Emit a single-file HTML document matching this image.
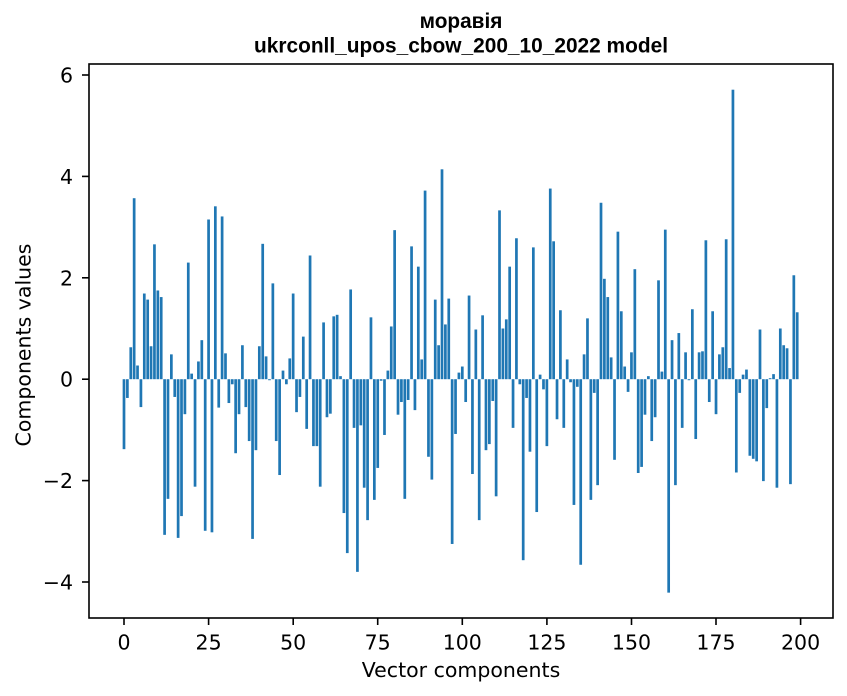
<!DOCTYPE html>
<html>
<head>
<meta charset="utf-8">
<style>
html,body{margin:0;padding:0;background:#fff;}
svg{display:block;}
.t{font-family:"DejaVu Sans","Liberation Sans",sans-serif;font-size:20.5px;fill:#000;}
.ti{font-family:"Liberation Sans","DejaVu Sans",sans-serif;font-size:20.8px;font-weight:bold;fill:#000;}
</style>
</head>
<body>
<svg width="847" height="696" viewBox="0 0 847 696" xmlns="http://www.w3.org/2000/svg">
<rect x="0" y="0" width="847" height="696" fill="#fff"/>
<text class="ti" x="461" y="28" text-anchor="middle">моравія</text>
<text class="ti" x="461" y="52.5" text-anchor="middle" textLength="414" lengthAdjust="spacingAndGlyphs">ukrconll_upos_cbow_200_10_2022 model</text>

<g transform="translate(124 379.2) scale(3.383 -50.7)" fill="#1f77b4">
<rect x="-0.4" y="-1.38" width="0.8" height="1.38"/>
<rect x="0.6" y="-0.37" width="0.8" height="0.37"/>
<rect x="1.6" y="0" width="0.8" height="0.63"/>
<rect x="2.6" y="0" width="0.8" height="3.57"/>
<rect x="3.6" y="0" width="0.8" height="0.27"/>
<rect x="4.6" y="-0.55" width="0.8" height="0.55"/>
<rect x="5.6" y="0" width="0.8" height="1.69"/>
<rect x="6.6" y="0" width="0.8" height="1.57"/>
<rect x="7.6" y="0" width="0.8" height="0.65"/>
<rect x="8.6" y="0" width="0.8" height="2.66"/>
<rect x="9.6" y="0" width="0.8" height="1.75"/>
<rect x="10.6" y="0" width="0.8" height="1.62"/>
<rect x="11.6" y="-3.07" width="0.8" height="3.07"/>
<rect x="12.6" y="-2.36" width="0.8" height="2.36"/>
<rect x="13.6" y="0" width="0.8" height="0.49"/>
<rect x="14.6" y="-0.35" width="0.8" height="0.35"/>
<rect x="15.6" y="-3.13" width="0.8" height="3.13"/>
<rect x="16.6" y="-2.70" width="0.8" height="2.70"/>
<rect x="17.6" y="-0.69" width="0.8" height="0.69"/>
<rect x="18.6" y="0" width="0.8" height="2.30"/>
<rect x="19.6" y="0" width="0.8" height="0.11"/>
<rect x="20.6" y="-2.12" width="0.8" height="2.12"/>
<rect x="21.6" y="0" width="0.8" height="0.35"/>
<rect x="22.6" y="0" width="0.8" height="0.77"/>
<rect x="23.6" y="-2.99" width="0.8" height="2.99"/>
<rect x="24.6" y="0" width="0.8" height="3.15"/>
<rect x="25.6" y="-3.02" width="0.8" height="3.02"/>
<rect x="26.6" y="0" width="0.8" height="3.41"/>
<rect x="27.6" y="-0.56" width="0.8" height="0.56"/>
<rect x="28.6" y="0" width="0.8" height="3.21"/>
<rect x="29.6" y="0" width="0.8" height="0.51"/>
<rect x="30.6" y="-0.47" width="0.8" height="0.47"/>
<rect x="31.6" y="-0.10" width="0.8" height="0.10"/>
<rect x="32.6" y="-1.46" width="0.8" height="1.46"/>
<rect x="33.6" y="-0.69" width="0.8" height="0.69"/>
<rect x="34.6" y="0" width="0.8" height="0.67"/>
<rect x="35.6" y="-0.55" width="0.8" height="0.55"/>
<rect x="36.6" y="-1.22" width="0.8" height="1.22"/>
<rect x="37.6" y="-3.15" width="0.8" height="3.15"/>
<rect x="38.6" y="-1.40" width="0.8" height="1.40"/>
<rect x="39.6" y="0" width="0.8" height="0.65"/>
<rect x="40.6" y="0" width="0.8" height="2.67"/>
<rect x="41.6" y="0" width="0.8" height="0.45"/>
<rect x="42.6" y="-0.02" width="0.8" height="0.02"/>
<rect x="43.6" y="0" width="0.8" height="1.89"/>
<rect x="44.6" y="-1.22" width="0.8" height="1.22"/>
<rect x="45.6" y="-1.89" width="0.8" height="1.89"/>
<rect x="46.6" y="0" width="0.8" height="0.17"/>
<rect x="47.6" y="-0.10" width="0.8" height="0.10"/>
<rect x="48.6" y="0" width="0.8" height="0.41"/>
<rect x="49.6" y="0" width="0.8" height="1.69"/>
<rect x="50.6" y="-0.65" width="0.8" height="0.65"/>
<rect x="51.6" y="-0.35" width="0.8" height="0.35"/>
<rect x="52.6" y="0" width="0.8" height="0.84"/>
<rect x="53.6" y="-0.98" width="0.8" height="0.98"/>
<rect x="54.6" y="0" width="0.8" height="2.44"/>
<rect x="55.6" y="-1.32" width="0.8" height="1.32"/>
<rect x="56.6" y="-1.32" width="0.8" height="1.32"/>
<rect x="57.6" y="-2.12" width="0.8" height="2.12"/>
<rect x="58.6" y="0" width="0.8" height="1.12"/>
<rect x="59.6" y="-0.75" width="0.8" height="0.75"/>
<rect x="60.6" y="-0.68" width="0.8" height="0.68"/>
<rect x="61.6" y="0" width="0.8" height="1.24"/>
<rect x="62.6" y="0" width="0.8" height="1.27"/>
<rect x="63.6" y="0" width="0.8" height="0.06"/>
<rect x="64.6" y="-2.64" width="0.8" height="2.64"/>
<rect x="65.6" y="-3.43" width="0.8" height="3.43"/>
<rect x="66.6" y="0" width="0.8" height="1.77"/>
<rect x="67.6" y="-0.96" width="0.8" height="0.96"/>
<rect x="68.6" y="-3.80" width="0.8" height="3.80"/>
<rect x="69.6" y="-0.91" width="0.8" height="0.91"/>
<rect x="70.6" y="-2.14" width="0.8" height="2.14"/>
<rect x="71.6" y="-2.78" width="0.8" height="2.78"/>
<rect x="72.6" y="0" width="0.8" height="1.22"/>
<rect x="73.6" y="-2.38" width="0.8" height="2.38"/>
<rect x="74.6" y="-1.75" width="0.8" height="1.75"/>
<rect x="75.6" y="-0.03" width="0.8" height="0.03"/>
<rect x="76.6" y="-1.10" width="0.8" height="1.10"/>
<rect x="77.6" y="0" width="0.8" height="0.17"/>
<rect x="78.6" y="0" width="0.8" height="1.04"/>
<rect x="79.6" y="0" width="0.8" height="2.94"/>
<rect x="80.6" y="-0.70" width="0.8" height="0.70"/>
<rect x="81.6" y="-0.45" width="0.8" height="0.45"/>
<rect x="82.6" y="-2.36" width="0.8" height="2.36"/>
<rect x="83.6" y="-0.41" width="0.8" height="0.41"/>
<rect x="84.6" y="0" width="0.8" height="2.62"/>
<rect x="85.6" y="-0.61" width="0.8" height="0.61"/>
<rect x="86.6" y="0" width="0.8" height="2.22"/>
<rect x="87.6" y="0" width="0.8" height="0.39"/>
<rect x="88.6" y="0" width="0.8" height="3.72"/>
<rect x="89.6" y="-1.53" width="0.8" height="1.53"/>
<rect x="90.6" y="-1.98" width="0.8" height="1.98"/>
<rect x="91.6" y="0" width="0.8" height="1.57"/>
<rect x="92.6" y="0" width="0.8" height="0.67"/>
<rect x="93.6" y="0" width="0.8" height="4.14"/>
<rect x="94.6" y="0" width="0.8" height="1.08"/>
<rect x="95.6" y="0" width="0.8" height="1.59"/>
<rect x="96.6" y="-3.25" width="0.8" height="3.25"/>
<rect x="97.6" y="-1.08" width="0.8" height="1.08"/>
<rect x="98.6" y="0" width="0.8" height="0.13"/>
<rect x="99.6" y="0" width="0.8" height="0.25"/>
<rect x="100.6" y="-0.45" width="0.8" height="0.45"/>
<rect x="101.6" y="0" width="0.8" height="1.65"/>
<rect x="102.6" y="-1.87" width="0.8" height="1.87"/>
<rect x="103.6" y="0" width="0.8" height="0.98"/>
<rect x="104.6" y="-2.78" width="0.8" height="2.78"/>
<rect x="105.6" y="0" width="0.8" height="1.26"/>
<rect x="106.6" y="-1.40" width="0.8" height="1.40"/>
<rect x="107.6" y="-1.28" width="0.8" height="1.28"/>
<rect x="108.6" y="-0.43" width="0.8" height="0.43"/>
<rect x="109.6" y="-2.31" width="0.8" height="2.31"/>
<rect x="110.6" y="0" width="0.8" height="3.33"/>
<rect x="111.6" y="0" width="0.8" height="1.00"/>
<rect x="112.6" y="0" width="0.8" height="1.18"/>
<rect x="113.6" y="0" width="0.8" height="2.22"/>
<rect x="114.6" y="-0.96" width="0.8" height="0.96"/>
<rect x="115.6" y="0" width="0.8" height="2.78"/>
<rect x="116.6" y="-0.10" width="0.8" height="0.10"/>
<rect x="117.6" y="-3.57" width="0.8" height="3.57"/>
<rect x="118.6" y="-0.37" width="0.8" height="0.37"/>
<rect x="119.6" y="-1.43" width="0.8" height="1.43"/>
<rect x="120.6" y="0" width="0.8" height="2.60"/>
<rect x="121.6" y="-2.62" width="0.8" height="2.62"/>
<rect x="122.6" y="0" width="0.8" height="0.09"/>
<rect x="123.6" y="-0.20" width="0.8" height="0.20"/>
<rect x="124.6" y="-1.32" width="0.8" height="1.32"/>
<rect x="125.6" y="0" width="0.8" height="3.76"/>
<rect x="126.6" y="0" width="0.8" height="2.72"/>
<rect x="127.6" y="-0.79" width="0.8" height="0.79"/>
<rect x="128.6" y="0" width="0.8" height="1.36"/>
<rect x="129.6" y="-0.96" width="0.8" height="0.96"/>
<rect x="130.6" y="0" width="0.8" height="0.39"/>
<rect x="131.6" y="-0.06" width="0.8" height="0.06"/>
<rect x="132.6" y="-2.48" width="0.8" height="2.48"/>
<rect x="133.6" y="-0.15" width="0.8" height="0.15"/>
<rect x="134.6" y="-3.66" width="0.8" height="3.66"/>
<rect x="135.6" y="0" width="0.8" height="0.49"/>
<rect x="136.6" y="0" width="0.8" height="1.20"/>
<rect x="137.6" y="-2.38" width="0.8" height="2.38"/>
<rect x="138.6" y="-0.27" width="0.8" height="0.27"/>
<rect x="139.6" y="-2.09" width="0.8" height="2.09"/>
<rect x="140.6" y="0" width="0.8" height="3.48"/>
<rect x="141.6" y="0" width="0.8" height="1.98"/>
<rect x="142.6" y="0" width="0.8" height="1.62"/>
<rect x="143.6" y="0" width="0.8" height="0.43"/>
<rect x="144.6" y="-1.59" width="0.8" height="1.59"/>
<rect x="145.6" y="0" width="0.8" height="2.91"/>
<rect x="146.6" y="0" width="0.8" height="1.34"/>
<rect x="147.6" y="0" width="0.8" height="0.25"/>
<rect x="148.6" y="-0.25" width="0.8" height="0.25"/>
<rect x="149.6" y="0" width="0.8" height="0.53"/>
<rect x="150.6" y="0" width="0.8" height="2.17"/>
<rect x="151.6" y="-1.85" width="0.8" height="1.85"/>
<rect x="152.6" y="-1.73" width="0.8" height="1.73"/>
<rect x="153.6" y="-0.70" width="0.8" height="0.70"/>
<rect x="154.6" y="0" width="0.8" height="0.06"/>
<rect x="155.6" y="-1.22" width="0.8" height="1.22"/>
<rect x="156.6" y="-0.75" width="0.8" height="0.75"/>
<rect x="157.6" y="0" width="0.8" height="1.95"/>
<rect x="158.6" y="0" width="0.8" height="0.15"/>
<rect x="159.6" y="0" width="0.8" height="2.95"/>
<rect x="160.6" y="-4.21" width="0.8" height="4.21"/>
<rect x="161.6" y="0" width="0.8" height="0.77"/>
<rect x="162.6" y="-2.09" width="0.8" height="2.09"/>
<rect x="163.6" y="0" width="0.8" height="0.91"/>
<rect x="164.6" y="-0.96" width="0.8" height="0.96"/>
<rect x="165.6" y="0" width="0.8" height="0.53"/>
<rect x="166.6" y="-0.02" width="0.8" height="0.02"/>
<rect x="167.6" y="0" width="0.8" height="1.38"/>
<rect x="168.6" y="-1.18" width="0.8" height="1.18"/>
<rect x="169.6" y="0" width="0.8" height="0.53"/>
<rect x="170.6" y="0" width="0.8" height="0.55"/>
<rect x="171.6" y="0" width="0.8" height="2.74"/>
<rect x="172.6" y="-0.45" width="0.8" height="0.45"/>
<rect x="173.6" y="0" width="0.8" height="1.34"/>
<rect x="174.6" y="-0.69" width="0.8" height="0.69"/>
<rect x="175.6" y="0" width="0.8" height="0.49"/>
<rect x="176.6" y="0" width="0.8" height="0.63"/>
<rect x="177.6" y="0" width="0.8" height="2.76"/>
<rect x="178.6" y="0" width="0.8" height="0.22"/>
<rect x="179.6" y="0" width="0.8" height="5.71"/>
<rect x="180.6" y="-1.84" width="0.8" height="1.84"/>
<rect x="181.6" y="-0.27" width="0.8" height="0.27"/>
<rect x="182.6" y="0" width="0.8" height="0.09"/>
<rect x="183.6" y="0" width="0.8" height="0.19"/>
<rect x="184.6" y="-1.51" width="0.8" height="1.51"/>
<rect x="185.6" y="-1.57" width="0.8" height="1.57"/>
<rect x="186.6" y="-1.62" width="0.8" height="1.62"/>
<rect x="187.6" y="0" width="0.8" height="0.98"/>
<rect x="188.6" y="-2.01" width="0.8" height="2.01"/>
<rect x="189.6" y="-0.57" width="0.8" height="0.57"/>
<rect x="190.6" y="0" width="0.8" height="0.02"/>
<rect x="191.6" y="0" width="0.8" height="0.10"/>
<rect x="192.6" y="-2.14" width="0.8" height="2.14"/>
<rect x="193.6" y="0" width="0.8" height="1.00"/>
<rect x="194.6" y="0" width="0.8" height="0.67"/>
<rect x="195.6" y="0" width="0.8" height="0.61"/>
<rect x="196.6" y="-2.07" width="0.8" height="2.07"/>
<rect x="197.6" y="0" width="0.8" height="2.05"/>
<rect x="198.6" y="0" width="0.8" height="1.32"/>
</g>

<!-- axes frame -->
<rect x="89" y="64" width="744" height="554" fill="none" stroke="#000" stroke-width="1.6"/>

<!-- y ticks -->
<g stroke="#000" stroke-width="1.6">
<line x1="82" y1="75" x2="89" y2="75"/>
<line x1="82" y1="176.4" x2="89" y2="176.4"/>
<line x1="82" y1="277.8" x2="89" y2="277.8"/>
<line x1="82" y1="379.2" x2="89" y2="379.2"/>
<line x1="82" y1="480.6" x2="89" y2="480.6"/>
<line x1="82" y1="582" x2="89" y2="582"/>
</g>
<g class="t" text-anchor="end">
<text x="73" y="82.5">6</text>
<text x="73" y="183.9">4</text>
<text x="73" y="285.3">2</text>
<text x="73" y="386.7">0</text>
<text x="73" y="488.1">−2</text>
<text x="73" y="589.5">−4</text>
</g>

<!-- x ticks -->
<g stroke="#000" stroke-width="1.6">
<line x1="124" y1="618" x2="124" y2="625"/>
<line x1="208.6" y1="618" x2="208.6" y2="625"/>
<line x1="293.2" y1="618" x2="293.2" y2="625"/>
<line x1="377.7" y1="618" x2="377.7" y2="625"/>
<line x1="462.3" y1="618" x2="462.3" y2="625"/>
<line x1="546.9" y1="618" x2="546.9" y2="625"/>
<line x1="631.5" y1="618" x2="631.5" y2="625"/>
<line x1="716" y1="618" x2="716" y2="625"/>
<line x1="800.6" y1="618" x2="800.6" y2="625"/>
</g>
<g class="t" text-anchor="middle">
<text x="124" y="649.5">0</text>
<text x="208.6" y="649.5">25</text>
<text x="293.2" y="649.5">50</text>
<text x="377.7" y="649.5">75</text>
<text x="462.3" y="649.5">100</text>
<text x="546.9" y="649.5">125</text>
<text x="631.5" y="649.5">150</text>
<text x="716" y="649.5">175</text>
<text x="800.6" y="649.5">200</text>
</g>

<text class="t" x="461" y="677" text-anchor="middle">Vector components</text>
<text class="t" x="30.5" y="345" text-anchor="middle" transform="rotate(-90 30.5 345)">Components values</text>
</svg>
</body>
</html>
